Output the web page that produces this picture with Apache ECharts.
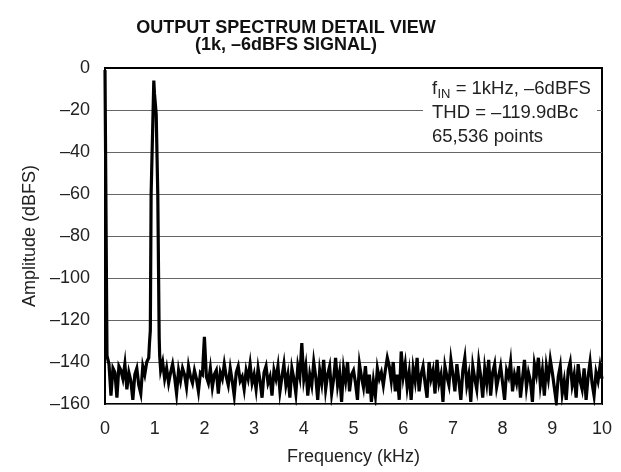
<!DOCTYPE html>
<html>
<head>
<meta charset="utf-8">
<script src="https://cdn.jsdelivr.net/npm/echarts@6/dist/echarts.min.js"></script>
<style>
html,body{margin:0;padding:0;background:#fff;}
#chart{width:621px;height:472px;}
</style>
</head>
<body>
<div id="chart"></div>
<script>
// ---- data ----
const titleLines = ['OUTPUT SPECTRUM DETAIL VIEW', '(1k, \u20136dBFS SIGNAL)'];
const xTicks = [0,1,2,3,4,5,6,7,8,9,10];
const yTicks = [0,-20,-40,-60,-80,-100,-120,-140,-160];
const binStepKHz = 0.04;
// amplitude (dBFS) per kHz segment, bins at seg + i*0.04 kHz; null = covered by peak detail
const floor0 = [-1,-137,-141,-156,-143,-145,-157,-142,-144,-148,-141,-153,-145,-149,-158,-146,-143,-151,-155,-142,-146,-140,-138,null,null];
const floor1 = [null,null,null,-144,-140,-148,-143,-150,-145,-141,-147,-155,-144,-149,-143,-146,-152,-142,-147,-150,-144,-148,-154,-145,-146];
const floor2 = [-128,-147,-150,-143,-152,-146,-144,-155,-145,-148,-141,-147,-151,-143,-149,-156,-145,-142,-149,-147,-153,-144,-148,-141,-150];
const floor3 = [-146,-153,-143,-149,-157,-145,-142,-150,-147,-156,-144,-148,-142,-154,-147,-141,-151,-146,-157,-143,-148,-155,-142,-147,-131];
const floor4 = [-148,-142,-156,-146,-151,-140,-147,-158,-144,-150,-139,-153,-146,-142,-155,-148,-138,-151,-145,-159,-143,-149,-140,-154,-146];
const floor5 = [-144,-150,-158,-141,-147,-152,-142,-155,-146,-159,-149,-156,-143,-148,-145,-151,-144,-138,-142,-149,-140,-154,-146,-158,-135];
const floor6 = [-147,-141,-152,-145,-158,-143,-149,-138,-154,-146,-142,-150,-157,-140,-148,-144,-155,-139,-150,-146,-159,-142,-147,-151,-139];
const floor7 = [-146,-154,-141,-149,-158,-144,-138,-151,-146,-159,-142,-148,-153,-140,-147,-157,-143,-150,-139,-156,-145,-141,-152,-147,-142];
const floor8 = [-150,-158,-144,-147,-140,-154,-146,-150,-142,-157,-148,-139,-152,-145,-149,-159,-141,-146,-138,-151,-144,-156,-142,-148,-139];
const floor9 = [-145,-152,-159,-147,-142,-155,-149,-158,-144,-140,-151,-146,-157,-141,-149,-153,-143,-158,-147,-140,-150,-156,-145,-149,-142];
const floor10 = [-148];
const floorSegments = [floor0,floor1,floor2,floor3,floor4,floor5,floor6,floor7,floor8,floor9,floor10];
// fundamental at 1 kHz
const peakFreq = [0.895, 0.912, 0.928, 0.982, 0.995, 1.03, 1.062, 1.09, 1.10];
const peakAmp  = [-131, -125, -60, -6, -12, -22, -60, -128, -137];

// ---- build series points ----
const pts = [];
floorSegments.forEach((seg, k) => {
  seg.forEach((v, i) => { if (v !== null) pts.push([+(k + i*binStepKHz).toFixed(3), v]); });
});
peakFreq.forEach((f, i) => pts.push([f, peakAmp[i]]));
pts.sort((a,b) => a[0]-b[0]);

const FONT = '"Liberation Sans", Arial, Helvetica, sans-serif';
const dash = v => v === 0 ? '0' : '\u2013' + Math.abs(v);

const chart = echarts.init(document.getElementById('chart'), null, {renderer:'canvas'});
chart.setOption({
  animation: false,
  backgroundColor: '#fff',
  grid: {left: 105, right: 19, top: 68, bottom: 68, show: true, borderColor: '#000', borderWidth: 2, backgroundColor: 'transparent'},
  xAxis: {
    type: 'value', min: 0, max: 10, interval: 1,
    name: 'Frequency (kHz)', nameLocation: 'middle', nameGap: 44,
    nameTextStyle: {fontFamily: FONT, fontSize: 18, color: '#222'},
    axisLine: {show: true, lineStyle: {color: '#000', width: 2}},
    axisTick: {show: false},
    splitLine: {show: false},
    axisLabel: {fontFamily: FONT, fontSize: 18, color: '#222', margin: 16, formatter: v => xTicks.includes(v) ? String(v) : ''}
  },
  yAxis: {
    type: 'value', min: -160, max: 0, interval: 20,
    name: 'Amplitude (dBFS)', nameLocation: 'middle', nameGap: 60, nameRotate: 90,
    nameTextStyle: {fontFamily: FONT, fontSize: 18, color: '#222'},
    axisLine: {show: true, lineStyle: {color: '#000', width: 2}},
    axisTick: {show: false},
    splitLine: {show: true, lineStyle: {color: '#666', width: 1.2}},
    axisLabel: {fontFamily: FONT, fontSize: 18, color: '#222', margin: 15, formatter: v => yTicks.includes(v) ? dash(v) : ''}
  },
  series: [{
    type: 'line', data: pts, showSymbol: false, symbol: 'none',
    lineStyle: {color: '#000', width: 3.2, join: 'miter'}, z: 3
  }],
  graphic: [
    {type: 'text', x: 286, y: 20, style: {text: titleLines.join('\n'), font: 'bold 18px ' + FONT, fill: '#111', textAlign: 'center', lineHeight: 17}},
    {type: 'rect', x: 423, y: 101, shape: {width: 174, height: 22}, style: {fill: '#fff'}, z: 10},
    {type: 'text', x: 432, y: 79, z: 11, style: {text: 'f', font: '18.5px ' + FONT, fill: '#222'}},
    {type: 'text', x: 437.5, y: 88, z: 11, style: {text: 'IN', font: '13px ' + FONT, fill: '#222'}},
    {type: 'text', x: 450.5, y: 79, z: 11, style: {text: ' = 1kHz, \u20136dBFS', font: '18.5px ' + FONT, fill: '#222'}},
    {type: 'text', x: 432, y: 103, z: 11, style: {text: 'THD = \u2013119.9dBc', font: '18.5px ' + FONT, fill: '#222'}},
    {type: 'text', x: 432, y: 127, z: 11, style: {text: '65,536 points', font: '18.5px ' + FONT, fill: '#222'}}
  ]
});
</script>
</body>
</html>
